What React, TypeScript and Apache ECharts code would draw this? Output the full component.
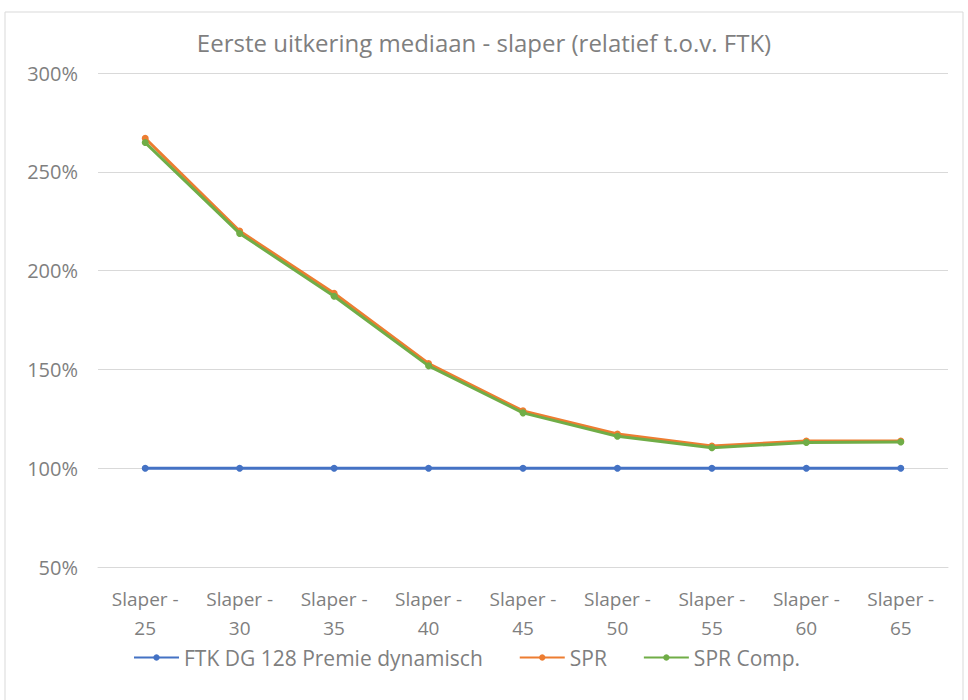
import React, { useEffect, useRef } from "react";
import * as echarts from "echarts";

const categories = ["Slaper -\n25", "Slaper -\n30", "Slaper -\n35", "Slaper -\n40", "Slaper -\n45", "Slaper -\n50", "Slaper -\n55", "Slaper -\n60", "Slaper -\n65"];
const ftkValues = [100, 100, 100, 100, 100, 100, 100, 100, 100];
const sprValues = [267, 220, 188.5, 153, 129, 117.3, 111.2, 113.8, 113.8];
const sprCompValues = [264.8, 218.8, 187, 151.8, 128, 116.2, 110.4, 113, 113.3];
const seriesNames = ["FTK DG 128 Premie dynamisch", "SPR", "SPR Comp."];
const colors = ["#4472C4", "#ED7D31", "#70AD47"];
const titleText = "Eerste uitkering mediaan - slaper (relatief t.o.v. FTK)";

export default function App() {
  const ref = useRef<HTMLDivElement>(null);
  useEffect(() => {
    if (!ref.current) return;
    const chart = echarts.init(ref.current, undefined, { renderer: "svg" });
    const font = "'Open Sans', 'Liberation Sans', sans-serif";
    const mk = (name: string, data: number[], color: string, z: number) => ({
      name,
      type: "line",
      data,
      z,
      symbol: "circle",
      symbolSize: 7,
      lineStyle: { color, width: 3 },
      itemStyle: { color },
      emphasis: { disabled: true },
    });
    chart.setOption({
      animation: false,
      backgroundColor: "#ffffff",
      textStyle: { fontFamily: font },
      title: {
        text: titleText,
        left: "center",
        top: 25,
        textStyle: { fontSize: 24, fontWeight: "normal", color: "#7F7F7F", fontFamily: font },
      },
      graphic: [
        {
          type: "rect",
          shape: { x: 5, y: 12, width: 958, height: 700 },
          style: { fill: "none", stroke: "#D9D9D9", lineWidth: 1 },
          silent: true,
        },
      ],
      legend: {
        bottom: 27,
        left: 128,
        itemWidth: 45,
        itemHeight: 8,
        itemGap: 36,
        textStyle: { fontSize: 21, color: "#7F7F7F", fontFamily: font },
        data: seriesNames,
      },
      grid: { left: 98, right: 20, top: 73, bottom: 133, containLabel: false },
      xAxis: {
        type: "category",
        data: categories,
        boundaryGap: true,
        axisLine: { show: true, lineStyle: { color: "#D9D9D9" } },
        axisTick: { show: false },
        axisLabel: { color: "#7F7F7F", fontSize: 19, lineHeight: 29, margin: 17, fontFamily: font },
      },
      yAxis: {
        type: "value",
        min: 50,
        max: 300,
        interval: 50,
        axisLine: { show: false },
        axisTick: { show: false },
        splitLine: { lineStyle: { color: "#D9D9D9" } },
        axisLabel: { color: "#7F7F7F", fontSize: 20, margin: 20, formatter: "{value}%", fontFamily: font },
      },
      series: [
        mk(seriesNames[0], ftkValues, colors[0], 2),
        mk(seriesNames[1], sprValues, colors[1], 3),
        mk(seriesNames[2], sprCompValues, colors[2], 4),
      ],
    });
    return () => chart.dispose();
  }, []);
  return <div ref={ref} style={{ position: "fixed", left: 0, top: 0, width: 968, height: 700 }} />;
}
